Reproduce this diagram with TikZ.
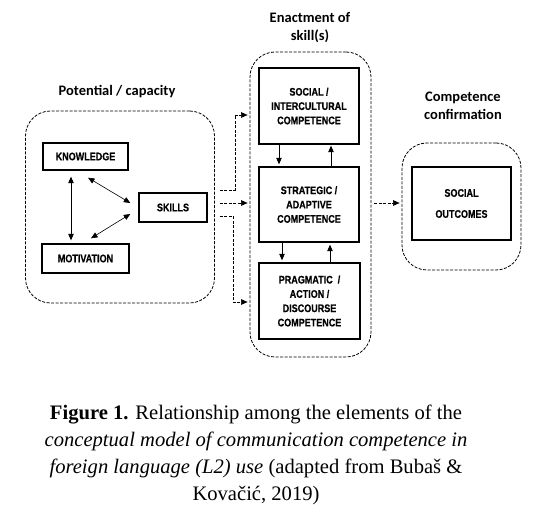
\documentclass[tikz,border=0pt]{standalone}
\usepackage{fontspec}
\setmainfont{Liberation Serif}
\newfontfamily\labelfont{Carlito}
\newfontfamily\boxfont[FakeStretch=0.82, FakeBold=0.6]{Liberation Sans Bold}
\usetikzlibrary{arrows.meta}

\begin{document}
\begin{tikzpicture}[x=1pt,y=-1pt,
  box/.style={draw, line width=1.4pt, align=center, inner sep=0pt,
    font=\boxfont\fontsize{11}{14.3}\selectfont},
  group/.style={draw, line width=0.8pt, dash pattern=on 3pt off 1.5pt,
    rounded corners=25pt, inner sep=0pt},
  head/.style={align=center, font=\labelfont\bfseries\fontsize{14.5}{18.5}\selectfont},
  link/.style={-{Triangle[length=6.5pt,width=5.5pt]}, line width=0.6pt},
  both/.style={{Triangle[length=6.5pt,width=5.5pt]}-{Triangle[length=6.5pt,width=5.5pt]}, line width=0.6pt},
  flow/.style={link, dash pattern=on 3pt off 1.5pt}
]
\useasboundingbox (0,0) rectangle (560,521);

% dashed groups
\node[group, minimum width=189pt, minimum height=192pt] (pot) at (120,207) {};
\node[group, minimum width=121pt, minimum height=305pt] (enact) at (310.5,204.5) {};
\node[group, minimum width=119pt, minimum height=127pt] (conf) at (461.5,206.5) {};

\node[head] at (117,92) {Potential / capacity};
\node[head] at (310,27.5) {Enactment of\\skill(s)};
\node[head] at (463,106) {Competence\\confirmation};

% potential / capacity
\node[box, minimum width=85pt, minimum height=27pt] (know) at (85.5,156.5) {KNOWLEDGE};
\node[box, minimum width=87pt, minimum height=29pt] (mot) at (85.5,258.5) {MOTIVATION};
\node[box, minimum width=68pt, minimum height=29pt] (skills) at (173,207.5) {SKILLS};

\draw[both] ([xshift=-14.5pt,yshift=-6pt]know.south) -- ([xshift=-14.5pt,yshift=3pt]mot.north);
\draw[both] ([xshift=2.5pt,yshift=-7pt]know.south) -- ([xshift=-8pt,yshift=4.5pt]skills.west);
\draw[both] ([xshift=5.5pt,yshift=5pt]mot.north) -- ([xshift=-8pt,yshift=-6.5pt]skills.west);

% enactment of skill(s)
\node[box, minimum width=100pt, minimum height=76pt] (soc) at (309,106) {SOCIAL /\\INTERCULTURAL\\COMPETENCE};
\node[box, minimum width=100pt, minimum height=75pt] (strat) at (309,204.5) {STRATEGIC /\\ADAPTIVE\\COMPETENCE};
\node[box, minimum width=101pt, minimum height=76pt] (prag) at (309.5,301) {PRAGMATIC \ /\\ACTION /\\DISCOURSE\\COMPETENCE};

\draw[link] ([xshift=-30pt]soc.south) -- ([xshift=-30pt,yshift=2pt]strat.north);
\draw[link] ([xshift=22pt]strat.north) -- ([xshift=22pt,yshift=-1pt]soc.south);
\draw[link] ([xshift=-27pt]strat.south) -- ([xshift=-27.5pt,yshift=2pt]prag.north);
\draw[link] ([xshift=20.5pt]prag.north) -- ([xshift=21pt,yshift=-2pt]strat.south);

% competence confirmation
\node[box, minimum width=99pt, minimum height=73pt, font=\boxfont\fontsize{11}{21}\selectfont] (out) at (461.5,203.5) {SOCIAL\\OUTCOMES};

% dashed flows
\draw[flow] ([xshift=5pt,yshift=17pt]pot.east) -- ++(15,0) |- ([xshift=-2pt,yshift=89.5pt]enact.west);
\draw[flow] ([xshift=5pt,yshift=4pt]pot.east) -- ([xshift=-2pt,yshift=1.5pt]enact.west);
\draw[flow] ([xshift=5pt,yshift=-9pt]pot.east) -- ++(13,0) |- ([xshift=-2pt,yshift=-97.5pt]enact.west);
\draw[flow] ([xshift=3pt,yshift=1.5pt]enact.east) -- ([xshift=-2pt,yshift=3.5pt]conf.west);

% caption
\node[align=center, font=\fontsize{20.6}{27}\selectfont] (cap) at (256,454.5)
  {\textbf{Figure 1.} Relationship among the elements of the\\
   \textit{conceptual model of communication competence in}\\
   \textit{foreign language (L2) use} (adapted from Bubaš \&\\
   Kovačić, 2019)};
\end{tikzpicture}
\end{document}
